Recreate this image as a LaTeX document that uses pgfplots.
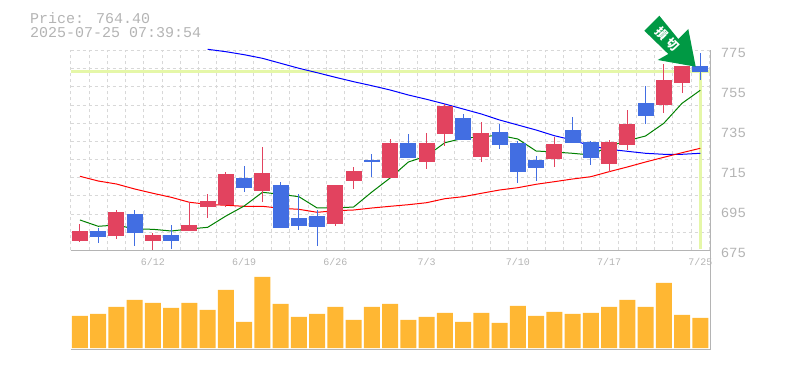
\documentclass[border=0pt]{standalone}
\usepackage{pgfplots}
\pgfplotsset{compat=1.18}
\usepackage{fontspec}
\setmainfont{Liberation Mono}
\newfontfamily\cjk{Noto Sans CJK JP}
\definecolor{upc}{HTML}{E2435F}
\definecolor{dnc}{HTML}{426EE2}
\definecolor{volc}{HTML}{FFB733}
\definecolor{pale}{HTML}{E5F7A8}
\definecolor{txt}{HTML}{B4B4B4}
\definecolor{gridc}{HTML}{D8D8D8}
\definecolor{arrowc}{HTML}{009944}
\pgfplotsset{
  base/.style={
    scale only axis, width=639.8pt, xmin=-0.52, xmax=34.55,
    axis line style={draw=none},
    tick style={draw=none},
    minor tick length=0pt,
    major tick length=0pt,
    minor xtick={-0.5,0.5,...,34.5},
    xminorgrids=true,
    minor grid style={gridc, dash pattern=on 3pt off 3pt, line width=0.9pt},
    clip=false,
  }
}
\begin{document}
\begin{tikzpicture}[x=1pt,y=1pt]
\useasboundingbox (0,0) rectangle (785,370);
% volume panel
\begin{axis}[base, at={(70.5pt,20.2pt)}, anchor=south west, height=99.8pt,
  ymin=-1.8, ymax=98, xtick=\empty, ytick=\empty]
\addplot[ybar, bar width=16pt, fill=volc, draw=none] coordinates {
(0,32)(1,34)(2,41)(3,48)(4,45)(5,40)(6,45)(7,38)(8,58)(9,26)(10,71)(11,44)
(12,31)(13,34)(14,41)(15,28)(16,41)(17,44)(18,28)(19,31)(20,35)(21,26)(22,35)
(23,25)(24,42)(25,32)(26,36)(27,34)(28,35)(29,41)(30,48)(31,41)(32,65)(33,33)(34,30)};
\draw[txt, line width=1.2pt] (axis cs:-0.52,-1.8) -- (axis cs:34.55,-1.8);
\draw[txt, line width=1.2pt] (axis cs:34.55,-1.8) -- (axis cs:34.55,98);
\end{axis}
% price panel
\begin{axis}[base, at={(70.5pt,119.7pt)}, anchor=south west, height=200pt,
  ymin=675, ymax=775,
  xtick={4,9,14,19,24,29,34},
  xticklabels={6/12,6/19,6/26,7/3,7/10,7/17,7/25},
  xticklabel style={font=\fontsize{10}{10}\selectfont, text=txt, yshift=-4pt},
  ytick={675,695,715,735,755,775},
  ytick pos=right,
  yticklabel style={font=\fontsize{14}{14}\selectfont, text=txt, /pgf/number format/assume math mode=true, yshift=-3pt, xshift=7pt},
  minor ytick={684.08,693.16,702.24,711.32,720.4,729.48,738.56,747.64,756.72,765.8,775},
  yminorgrids=true,
]
\addplot[pale, line width=3.6pt] coordinates {(-0.52,764.4)(34.55,764.4)};
\addplot[pale, line width=3pt] coordinates {(34,764.4)(34,675.5)};
% long average
\addplot[blue, line width=1pt] coordinates {(7,775.5)(8,774.3)(9,772.8)(10,771)(11,768.5)(12,766)(13,763.8)(14,761.5)(15,759.3)(16,757.3)(17,755.15)(18,752.65)(19,750.5)(20,748.15)(21,745.65)(22,743.15)(23,740.15)(24,737.65)(25,735.15)(26,732.3)(27,730.15)(28,727.15)(29,725.5)(30,724.5)(31,723.5)(32,723)(33,723)(34,723.5)};
% middle average
\addplot[red, line width=1pt] coordinates {(0,712)(1,709.65)(2,708.15)(3,705.65)(4,703.5)(5,701.5)(6,699)(7,698)(8,697.5)(9,697)(10,697)(11,696)(12,695.5)(13,694)(14,694.8)(15,695.15)(16,696.15)(17,697)(18,697.8)(19,698.8)(20,700.8)(21,701.8)(22,703.5)(23,705.15)(24,706.3)(25,708)(26,709.3)(27,710.65)(28,711.8)(29,714.3)(30,716.65)(31,719.15)(32,721.5)(33,723.8)(34,726)};
% short average
\addplot[green!50!black, line width=1pt] coordinates {(0,690.15)(1,687)(2,687.65)(3,685.65)(4,685.5)(5,684.65)(6,685.65)(7,686.5)(8,692.15)(9,697.15)(10,704)(11,703)(12,701.8)(13,696.15)(14,696.15)(15,696.65)(16,704.15)(17,711.15)(18,719.15)(19,722.15)(20,728.8)(21,731)(22,731.8)(23,732.5)(24,730.65)(25,724.65)(26,724.15)(27,723.5)(28,722.65)(29,727)(30,729.8)(31,732.15)(32,738.5)(33,748.5)(34,755)};
% wicks, red
\addplot[upc, line width=1pt, unbounded coords=jump] coordinates {
(0,679.15)(0,688.15)(0,nan)(2,680.65)(2,695.15)(2,nan)(4,674.65)(4,683.65)(4,nan)
(6,684.65)(6,699.15)(6,nan)(7,691.15)(7,703.15)(7,nan)(8,696.65)(8,714.15)(8,nan)
(10,699.15)(10,726.65)(10,nan)(14,687.15)(14,707.65)(14,nan)(15,705.65)(15,716.65)(15,nan)
(17,711.15)(17,730.65)(17,nan)(19,715.65)(19,733.65)(19,nan)(20,727.15)(20,748.15)(20,nan)
(22,719.15)(22,739.15)(22,nan)(26,716.65)(26,731.65)(26,nan)(29,714.15)(29,730.15)(29,nan)
(30,725.15)(30,745.15)(30,nan)(32,743.65)(32,768.15)(32,nan)(33,753.65)(33,767.15)};
% wicks, blue
\addplot[dnc, line width=1pt, unbounded coords=jump] coordinates {
(1,678.65)(1,686.15)(1,nan)(3,677.15)(3,695.15)(3,nan)(5,675.65)(5,687.65)(5,nan)
(9,704.15)(9,717.15)(9,nan)(11,686.15)(11,709.15)(11,nan)(12,685.15)(12,703.15)(12,nan)
(13,677.15)(13,695.15)(13,nan)(16,711.65)(16,723.15)(16,nan)(18,721.15)(18,733.15)(18,nan)
(21,730.15)(21,743.15)(21,nan)(23,725.65)(23,738.15)(23,nan)(24,708.65)(24,729.5)(24,nan)
(25,709.65)(25,722.15)(25,nan)(27,728.65)(27,741.65)(27,nan)(28,717.65)(28,729.65)(28,nan)
(31,738.15)(31,757.15)(31,nan)(34,760.15)(34,773.65)};
% bodies, red
\addplot[upc, line width=16pt, unbounded coords=jump] coordinates {
(0,679.65)(0,684.65)(0,nan)(2,682.15)(2,694.15)(2,nan)(4,679.65)(4,682.65)(4,nan)
(6,684.65)(6,687.65)(6,nan)(7,696.65)(7,699.65)(7,nan)(8,697.65)(8,713.15)(8,nan)
(10,704.65)(10,713.65)(10,nan)(14,688.15)(14,707.65)(14,nan)(15,709.65)(15,714.65)(15,nan)
(17,711.15)(17,728.65)(17,nan)(19,719.15)(19,728.65)(19,nan)(20,733.15)(20,747.15)(20,nan)
(22,721.65)(22,733.65)(22,nan)(26,720.65)(26,728.15)(26,nan)(29,718.15)(29,729.15)(29,nan)
(30,727.65)(30,738.15)(30,nan)(32,747.65)(32,760.15)(32,nan)(33,758.65)(33,767.15)};
% bodies, blue
\addplot[dnc, line width=16pt, unbounded coords=jump] coordinates {
(1,681.65)(1,684.65)(1,nan)(3,683.65)(3,693.15)(3,nan)(5,679.65)(5,682.65)(5,nan)
(9,706.15)(9,711.15)(9,nan)(11,686.15)(11,707.65)(11,nan)(12,687.15)(12,691.15)(12,nan)
(13,686.65)(13,692.15)(13,nan)(16,719.15)(16,720.15)(16,nan)(18,721.15)(18,728.65)(18,nan)
(21,730.15)(21,741.15)(21,nan)(23,727.65)(23,734.15)(23,nan)(24,714.15)(24,728.65)(24,nan)
(25,716.15)(25,720.15)(25,nan)(27,728.65)(27,735.15)(27,nan)(28,721.15)(28,729.15)(28,nan)
(31,742.15)(31,748.65)(31,nan)(34,764.15)(34,767.15)};
\draw[txt, line width=1.2pt] (axis cs:-0.52,675) -- (axis cs:34.55,675);
\draw[txt, line width=1.2pt] (axis cs:34.55,675) -- (axis cs:34.55,775);
\end{axis}
% header
\node[anchor=west, inner sep=0pt, text=txt, font=\fontsize{15}{15}\selectfont] at (30,351.5) {Price: 764.40};
\node[anchor=west, inner sep=0pt, text=txt, font=\fontsize{15}{15}\selectfont] at (30,337) {2025-07-25 07:39:54};
% signal arrow
\fill[arrowc] (659.3,354.3) -- (644.3,339.3) -- (668.3,316) -- (657.7,310) -- (695.7,303.3) -- (688.3,341) -- (678.3,331) -- cycle;
\node[rotate=-45, text=white, inner sep=0pt, font=\cjk\bfseries\fontsize{12}{12}\selectfont] at (667.5,331) {損\hspace{3pt}切};
\end{tikzpicture}
\end{document}
